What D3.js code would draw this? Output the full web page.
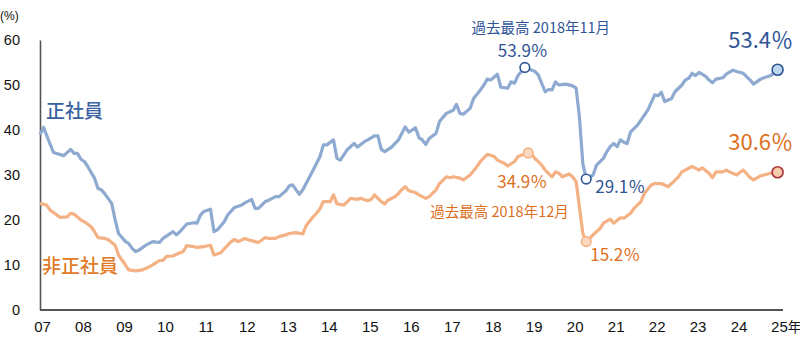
<!DOCTYPE html>
<html><head><meta charset="utf-8">
<script src="https://cdn.jsdelivr.net/npm/d3@7"></script>
<style>
html,body{margin:0;padding:0;background:#fff;}
svg{display:block;}
</style></head>
<body>
<svg id="chart" width="800" height="348"></svg>
<script>
// ---- data ----
const regularMonths = ["2007-01","2007-02","2007-05","2007-08","2007-10","2007-11","2007-12","2008-01","2008-02","2008-03","2008-05","2008-06","2008-07","2008-08","2008-10","2008-11","2008-12","2009-02","2009-03","2009-04","2009-05","2009-06","2009-08","2009-10","2009-12","2010-01","2010-04","2010-05","2010-06","2010-08","2010-10","2010-11","2010-12","2011-01","2011-03","2011-04","2011-05","2011-07","2011-08","2011-10","2011-12","2012-01","2012-03","2012-04","2012-05","2012-07","2012-08","2012-10","2012-11","2013-01","2013-02","2013-03","2013-05","2013-06","2013-09","2013-11","2013-12","2014-01","2014-03","2014-04","2014-05","2014-07","2014-09","2014-10","2014-12","2015-01","2015-03","2015-04","2015-05","2015-06","2015-08","2015-10","2015-12","2016-01","2016-03","2016-04","2016-05","2016-06","2016-07","2016-09","2016-10","2016-12","2017-02","2017-03","2017-04","2017-05","2017-07","2017-08","2017-10","2017-11","2017-12","2018-01","2018-03","2018-04","2018-06","2018-07","2018-08","2018-09","2018-11","2019-02","2019-03","2019-05","2019-06","2019-07","2019-08","2019-09","2019-11","2020-01","2020-02","2020-03","2020-04","2020-05","2020-07","2020-08","2020-10","2020-11","2020-12","2021-01","2021-02","2021-03","2021-04","2021-05","2021-06","2021-08","2021-09","2021-11","2022-01","2022-02","2022-03","2022-04","2022-06","2022-07","2022-09","2022-10","2022-11","2022-12","2023-01","2023-02","2023-04","2023-05","2023-06","2023-07","2023-09","2023-10","2023-12","2024-01","2024-03","2024-05","2024-06","2024-08","2024-09","2024-11","2025-01"];
const regularValues = [38.9,40.6,35.0,34.3,35.7,34.8,34.8,33.5,33.0,31.9,29.3,27.0,26.7,25.8,23.7,20.0,17.0,15.2,14.8,13.7,13.0,13.3,14.4,15.2,15.0,15.9,17.4,16.7,17.4,19.1,19.4,19.3,21.1,21.9,22.4,17.4,17.8,19.6,21.1,22.8,23.3,23.8,24.6,22.6,22.6,24.1,24.4,25.2,25.2,26.5,27.6,27.8,25.7,26.7,31.1,34.1,36.7,36.7,37.8,33.7,33.3,35.6,37.0,36.2,37.4,37.8,38.7,38.7,35.7,35.2,36.2,37.8,40.7,39.5,40.5,38.3,37.8,36.8,38.1,39.3,41.9,43.7,44.4,45.7,43.7,43.5,44.8,47.0,48.9,50.0,51.3,51.1,52.4,49.5,49.3,50.7,50.4,52.1,53.9,53.0,52.2,48.5,49.0,48.9,50.7,50.0,50.2,49.8,49.3,43.0,32.5,29.1,30.0,32.2,33.7,35.2,36.3,37.0,36.3,37.8,37.3,37.0,39.6,41.1,42.2,44.4,47.8,47.6,48.4,46.3,47.0,48.5,50.0,51.1,51.5,52.6,52.1,52.8,51.9,51.1,50.5,51.3,51.6,52.4,53.3,53.0,52.6,51.1,50.2,51.3,51.6,52.1,53.4];

const nonRegularMonths = ["2007-01","2007-03","2007-04","2007-06","2007-07","2007-09","2007-10","2007-11","2008-01","2008-02","2008-04","2008-05","2008-06","2008-08","2008-09","2008-11","2008-12","2009-02","2009-03","2009-05","2009-07","2009-09","2009-11","2009-12","2010-01","2010-02","2010-04","2010-05","2010-07","2010-08","2010-10","2010-11","2011-01","2011-03","2011-04","2011-06","2011-07","2011-09","2011-10","2011-11","2012-01","2012-02","2012-04","2012-05","2012-07","2012-08","2012-10","2012-11","2013-01","2013-02","2013-04","2013-06","2013-07","2013-09","2013-10","2013-11","2013-12","2014-02","2014-03","2014-04","2014-06","2014-08","2014-10","2014-11","2015-01","2015-02","2015-03","2015-05","2015-06","2015-07","2015-09","2015-10","2015-11","2015-12","2016-01","2016-03","2016-04","2016-06","2016-07","2016-09","2016-10","2016-12","2017-01","2017-02","2017-04","2017-05","2017-07","2017-09","2017-10","2017-12","2018-02","2018-03","2018-05","2018-06","2018-08","2018-09","2018-10","2018-12","2019-01","2019-02","2019-03","2019-04","2019-05","2019-07","2019-08","2019-09","2019-10","2019-12","2020-01","2020-02","2020-03","2020-04","2020-05","2020-07","2020-09","2020-10","2020-12","2021-01","2021-03","2021-04","2021-06","2021-07","2021-09","2021-10","2021-12","2022-01","2022-03","2022-05","2022-06","2022-08","2022-09","2022-11","2022-12","2023-02","2023-03","2023-05","2023-06","2023-07","2023-09","2023-10","2023-11","2024-01","2024-02","2024-03","2024-05","2024-06","2024-08","2024-09","2024-11","2025-01"];
const nonRegularValues = [23.7,23.3,22.2,21.1,20.6,20.7,21.5,21.3,20.0,19.6,18.5,17.4,16.1,15.9,15.6,14.4,12.2,10.0,8.9,8.7,8.9,9.6,10.5,11.0,11.0,11.9,12.0,12.4,13.0,14.3,14.1,13.9,14.1,14.4,12.2,12.7,13.6,15.2,15.7,15.2,15.9,15.6,15.2,15.0,16.1,15.9,15.9,16.3,16.7,17.0,17.2,16.9,18.8,20.7,21.5,22.5,24.1,24.1,25.6,23.6,23.3,24.8,24.6,24.8,24.3,24.6,25.6,24.1,23.6,24.4,25.2,25.9,26.8,27.4,26.5,26.1,25.6,24.8,25.2,26.7,28.1,29.6,29.4,29.6,29.3,28.9,30.0,31.9,33.0,34.6,34.1,33.3,32.6,32.0,33.0,34.1,34.4,34.9,34.6,33.6,33.0,32.2,31.1,29.6,30.7,30.4,29.6,30.2,29.6,28.5,23.0,17.0,15.2,16.7,18.1,19.3,20.2,19.3,20.5,20.4,21.5,22.6,24.1,25.9,27.8,28.1,28.1,27.4,28.1,29.6,30.7,31.5,31.9,31.1,31.6,30.4,29.4,30.7,30.7,31.1,30.7,30.0,30.6,31.1,29.4,28.9,29.8,30.0,30.4,30.6];

const yearTicks = [2007,2008,2009,2010,2011,2012,2013,2014,2015,2016,2017,2018,2019,2020,2021,2022,2023,2024,2025];
const yearLabels = ["07","08","09","10","11","12","13","14","15","16","17","18","19","20","21","22","23","24","25"];
const yearSuffix = "年";
const valueTicks = [0,10,20,30,40,50,60];

const seriesNames = ["正社員","非正社員"];
const regularPeak = {month:"2018-11", value:53.9, note:"過去最高 2018年11月"};
const regularLow = {month:"2020-05", value:29.1};
const regularLast = {month:"2025-01", value:53.4};
const nonRegularPeak = {month:"2018-12", value:34.9, note:"過去最高 2018年12月"};
const nonRegularLow = {month:"2020-05", value:15.2};
const nonRegularLast = {month:"2025-01", value:30.6};

// ---- drawing ----
const parse = d3.timeParse("%Y-%m");
const svg = d3.select("#chart");
const blueLine = "#8eaad0", orangeLine = "#f4b183";
const blueText = "#2f5597", orangeText = "#dc6f1e";
const jp = "'Noto Sans CJK JP','Noto Sans',sans-serif";

const x = d3.scaleTime().domain([new Date(2007,0,1), new Date(2025,0,1)]).range([40, 777.6]);
const y = d3.scaleLinear().domain([0,60]).range([310,40]);

// y axis
const yAxis = svg.append("g").attr("transform","translate(40,0)")
  .call(d3.axisLeft(y).tickValues(valueTicks).tickSize(0).tickSizeOuter(0).tickPadding(20));
yAxis.select(".domain").attr("stroke","#555").attr("stroke-width",1.6);
yAxis.selectAll("text").attr("font-family","'Liberation Sans',Arial,sans-serif").attr("font-size",14.5).attr("fill","#111");

// x axis
const xAxis = svg.append("g").attr("transform","translate(0,310)")
  .call(d3.axisBottom(x).tickValues(yearTicks.map(v=>new Date(v,0,1))).tickSize(0).tickPadding(11)
    .tickFormat((d,i)=>yearLabels[i]));
xAxis.select(".domain").remove();
xAxis.append("line").attr("x1",40).attr("x2",783).attr("y1",0).attr("y2",0)
  .attr("stroke","#555").attr("stroke-width",2);
xAxis.selectAll(".tick text").attr("font-family","'Liberation Sans Narrow','Arial Narrow','Liberation Sans',sans-serif")
  .attr("font-size",15).attr("fill","#111").attr("dx",2);
const lastTick = xAxis.selectAll(".tick").filter((d,i)=>i===yearLabels.length-1).select("text");
lastTick.attr("text-anchor","start").attr("dx",-7);
lastTick.append("tspan").text(yearSuffix).attr("font-family",jp).attr("font-size",13.5);

svg.append("text").attr("x",0).attr("y",20).text("(%)")
  .attr("font-family","'Liberation Sans',Arial,sans-serif").attr("font-size",12).attr("fill","#111");

const line = d3.line().x(d=>x(d[0])).y(d=>y(d[1])).curve(d3.curveLinear);
const regData = regularMonths.map((m,i)=>[parse(m), regularValues[i]]);
const nonData = nonRegularMonths.map((m,i)=>[parse(m), nonRegularValues[i]]);

svg.append("path").datum(nonData).attr("d",line).attr("fill","none")
  .attr("stroke",orangeLine).attr("stroke-width",3.2).attr("stroke-linejoin","round");
svg.append("path").datum(regData).attr("d",line).attr("fill","none")
  .attr("stroke",blueLine).attr("stroke-width",3.2).attr("stroke-linejoin","round");

function marker(p, fill, stroke, r){
  svg.append("circle").attr("cx",x(parse(p.month))).attr("cy",y(p.value)).attr("r",r)
    .attr("fill",fill).attr("stroke",stroke).attr("stroke-width",1.6);
}
marker(regularPeak,"#fff",blueText,4.8);
marker(regularLow,"#fff",blueText,4.8);
marker(nonRegularPeak,"#fbd9c0",orangeLine,4.8);
marker(nonRegularLow,"#fbd9c0",orangeLine,4.8);
marker(regularLast,"#bdd7ee",blueText,5.5);
marker(nonRegularLast,"#f8cbad","#a8343a",5.5);

function label(txt, xx, yy, size, color, anchor, weight){
  svg.append("text").attr("x",xx).attr("y",yy).text(txt)
    .attr("font-family",jp).attr("font-size",size).attr("fill",color)
    .attr("font-weight",weight||400)
    .attr("text-anchor",anchor||"start");
}
const pct = v => v.toFixed(1)+"％";
// series names
label(seriesNames[0], 46, 118, 19, "#3a62a0", "start", 500);
label(seriesNames[1], 42, 273, 19, "#e07b28", "start", 500);
// regular annotations
const rpX = x(parse(regularPeak.month));
label(regularPeak.note, rpX+16, 33, 14.5, blueText, "middle");
label(pct(regularPeak.value), rpX-2, 57, 17, blueText, "middle");
label(pct(regularLow.value), x(parse(regularLow.month))+9, 193, 17, blueText);
label(pct(regularLast.value), 793, 48, 22, blueText, "end");
// non-regular annotations
label(pct(nonRegularPeak.value), x(parse(nonRegularPeak.month))-31, 188, 17, orangeText);
label(nonRegularPeak.note, x(parse(nonRegularPeak.month))-98, 217, 14.5, orangeText);
label(pct(nonRegularLow.value), x(parse(nonRegularLow.month))+4, 261, 17, orangeText);
label(pct(nonRegularLast.value), 793, 150, 22, orangeText, "end");
</script>
</body></html>
